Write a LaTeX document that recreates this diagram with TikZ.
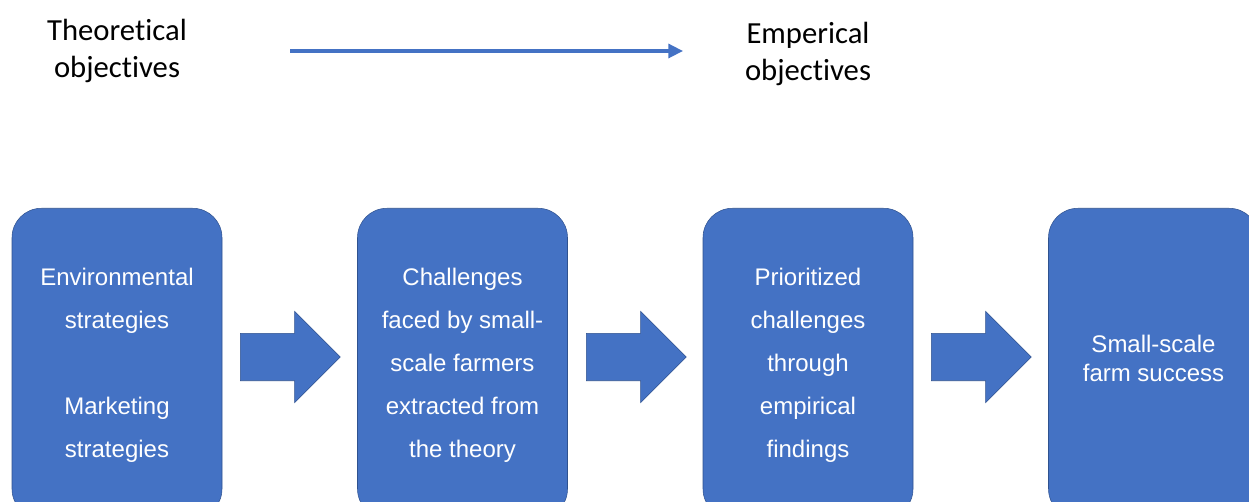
\documentclass[tikz,border=0pt]{standalone}
\usepackage{fontspec}
\setmainfont{Liberation Sans}
\newfontfamily\calibri[Ligatures=NoCommon]{Carlito}
\usetikzlibrary{shapes.arrows, arrows.meta, positioning}
\definecolor{boxblue}{HTML}{4472C4}
\definecolor{boxedge}{HTML}{2F528F}
\tikzset{stage/.style={draw=boxedge,fill=boxblue,rounded corners=22pt,minimum width=157.5pt,minimum height=232.5pt,
                       text=white,align=center,anchor=north,text depth=0.8pt,font=\fontsize{18}{32.25}\selectfont},
         bigarrow/.style={single arrow,draw=boxedge,fill=boxblue,minimum height=75pt,minimum width=0pt,anchor=west,
                          inner xsep=0pt,inner ysep=17.6pt,single arrow head extend=16.5pt},
         heading/.style={align=center,font=\calibri\fontsize{23}{27.75}\selectfont}}

\begin{document}
\begin{tikzpicture}[x=0.75pt,y=-0.75pt]
        \useasboundingbox (0,0) rectangle (1249,502);
        \clip (0,0) rectangle (1249,502);

        \node[heading](theo)at(117,51){Theoretical\\objectives};
        \node[heading](emp)at(808,54){Emperical\\objectives};
        \coordinate(from)at(290,51);
        \coordinate(to)at(683,51);
        \draw[boxblue, line width=2.4pt, -{Triangle[length=11pt,width=10.5pt]}](from)--(to);

        \node[stage](s1)at(117,208){Environmental\\strategies\\[32.25pt]Marketing\\strategies};
        \node[stage](s2)at(462.5,208){Challenges\\faced by small-\\scale farmers\\extracted from\\the theory};
        \node[stage](s3)at(808,208){Prioritized\\challenges\\through\\empirical\\findings};
        \node[stage, text depth=7.5pt, font=\fontsize{18}{21.75}\selectfont](s4)at(1153.5,208){Small-scale\\farm success};

        \node[bigarrow](a1)at(240,357){};
        \node[bigarrow](a2)at(586,357){};
        \node[bigarrow](a3)at(931,357){};
    \end{tikzpicture}
\end{document}
